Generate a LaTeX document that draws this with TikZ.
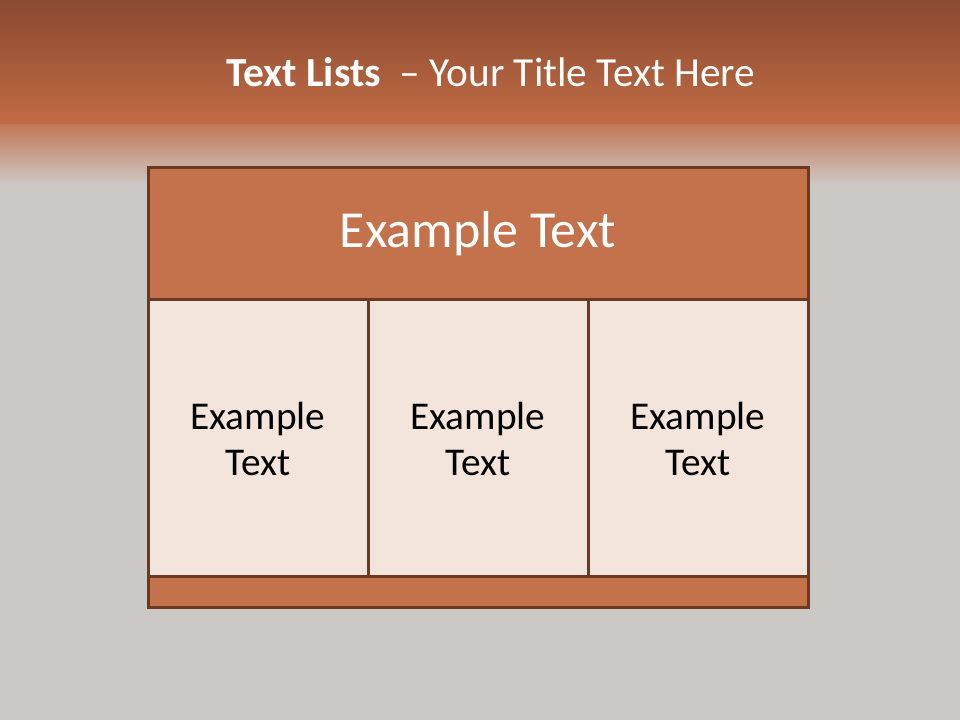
\documentclass[tikz,border=0pt]{standalone}
\usepackage{fontspec}
\usepackage{tikz}
\setmainfont{Carlito}
\definecolor{topbraun}{HTML}{8a4a30}
\definecolor{band}{HTML}{c16b44}
\definecolor{grau}{HTML}{ccc8c5}
\definecolor{kopf}{HTML}{c4724b}
\definecolor{zelle}{HTML}{f3e4dc}
\definecolor{rand}{HTML}{6b3820}
\usetikzlibrary{positioning}

\begin{document}
\begin{tikzpicture}
    [
    x=0.75pt, y=0.75pt, font=\fontsize{29.5}{34.5}\selectfont,
    %Voreinstellung für Kästen
    kasten/.style={draw=rand, line width=2.25pt, outer sep=0pt, inner sep=0pt},
    kopfbox/.style={kasten, fill=kopf, text=white, minimum width=495pt, minimum height=99pt},
    zellbox/.style={kasten, fill=zelle, text=black, align=center, minimum width=165pt, minimum height=207.75pt},
    fussbox/.style={kasten, fill=kopf, minimum width=495pt, minimum height=23.25pt}
    ]
    
    %Hintergrund
    \useasboundingbox (0,0) rectangle (960,720);
    \fill[grau] (0,0) rectangle (960,720);
    \shade[top color=topbraun, bottom color=band] (0,595) rectangle (960,720);
    \shade[top color=band!85!grau, bottom color=grau] (0,535) rectangle (960,595);
    
    %Titel
    \node[anchor=base, text=white, font=\fontsize{31}{37}\selectfont] (titel) at (491,633)
    {\textbf{Text Lists}~~– Your Title Text Here};
    
    %Tabelle
    \node[kopfbox, font=\fontsize{39}{47}\selectfont] (kopf) at (478,486) {Example Text};
    \node[zellbox, below right=0pt of kopf.south west] (z1) {Example\\Text};
    \node[zellbox, right=0pt of z1] (z2) {Example\\Text};
    \node[zellbox, right=0pt of z2] (z3) {Example\\Text};
    \node[fussbox, below right=0pt of z1.south west] (fuss) {};
\end{tikzpicture}
\end{document}
